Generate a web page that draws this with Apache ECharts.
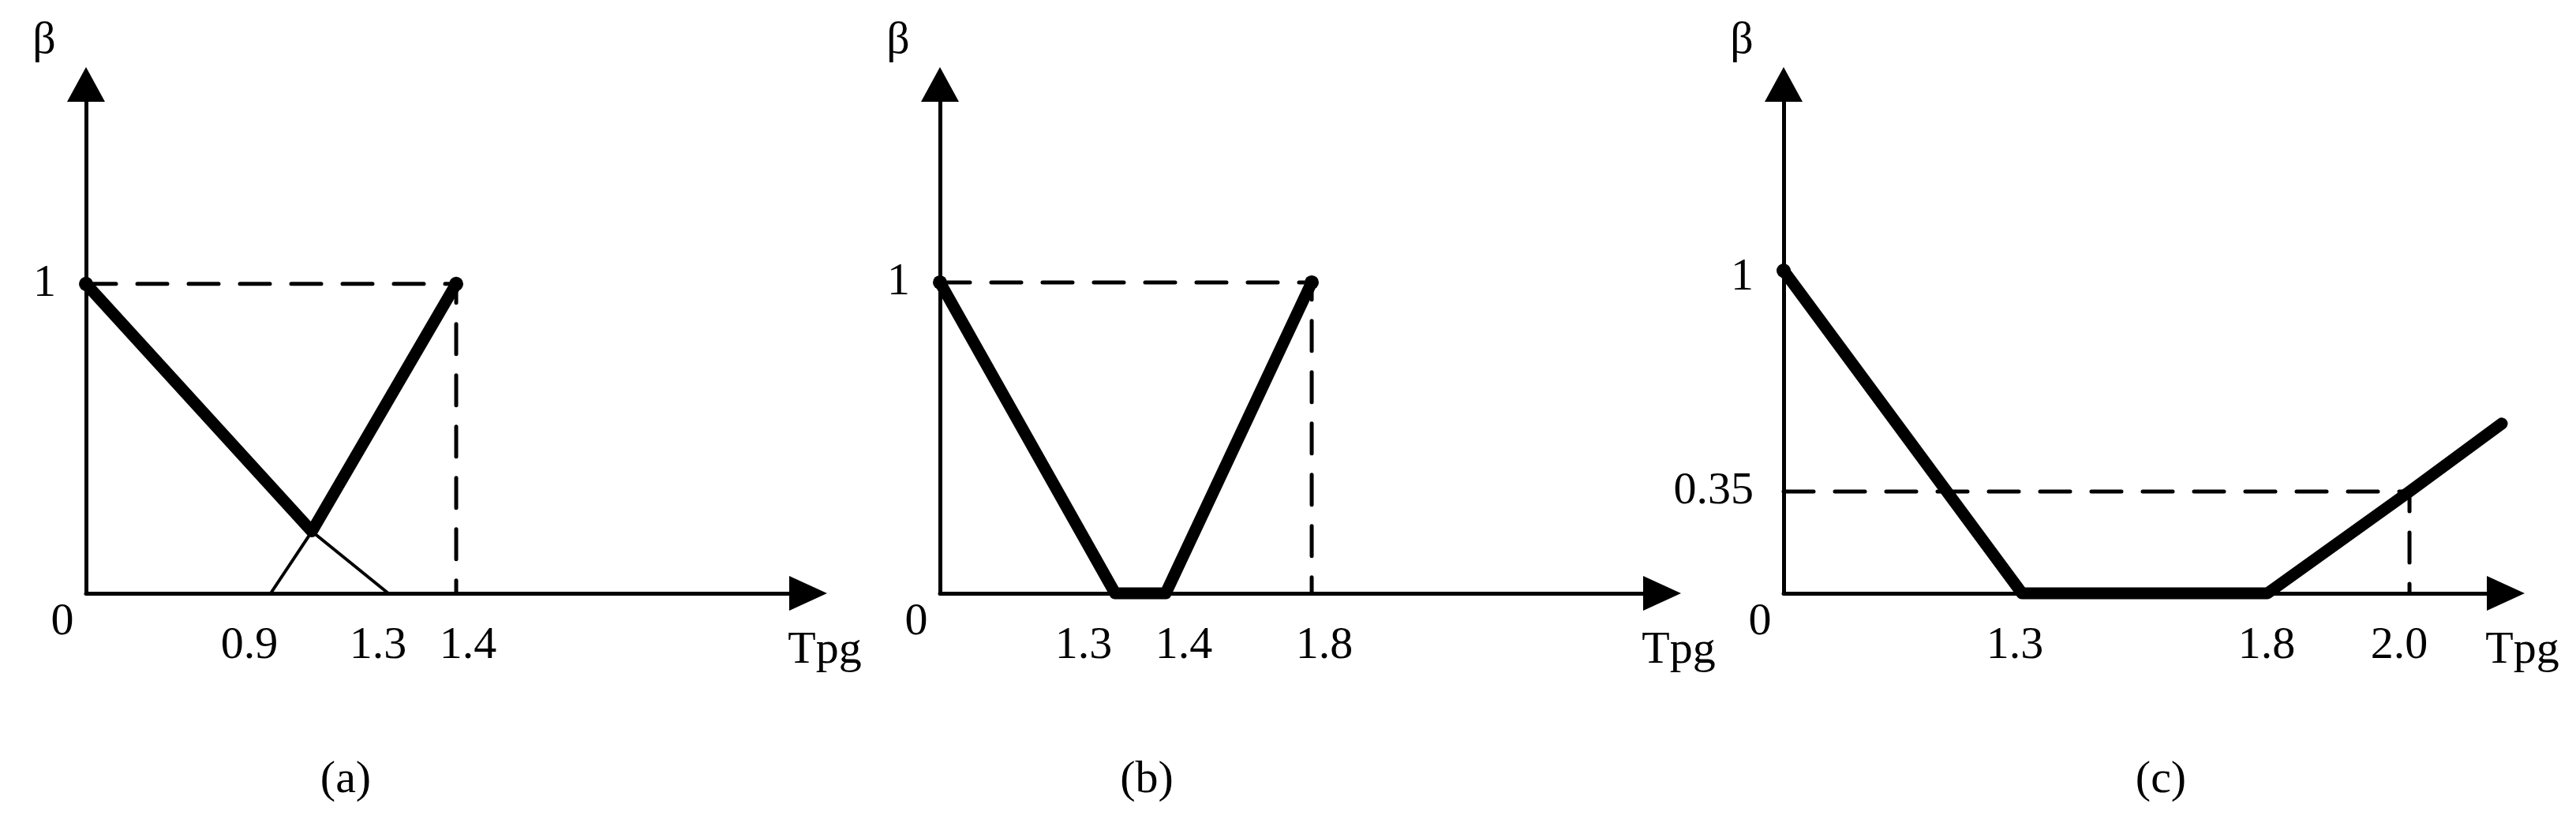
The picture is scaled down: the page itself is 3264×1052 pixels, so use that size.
<!DOCTYPE html>
<html>
<head>
<meta charset="utf-8">
<title>β - Tpg</title>
<script src="https://cdn.jsdelivr.net/npm/echarts@6/dist/echarts.min.js"></script>
<style>
html, body { margin: 0; padding: 0; background: #fff; }
#chart { width: 3264px; height: 1052px; }
</style>
</head>
<body>
<div id="chart"></div>
<script>
// (a)
const aXTicks = ['0.9', '1.3', '1.4'];
const aYTicks = ['1'];
const aBold = [[0, 1], [1.04, 0.2], [1.4, 1]];
const aThinDown = [[1.04, 0.2], [1.3, 0]];
const aThinUp = [[0.9, 0], [1.04, 0.2]];
const aGuide = [[0, 1], [1.4, 1], [1.4, 0]];
// (b)
const bXTicks = ['1.3', '1.4', '1.8'];
const bYTicks = ['1'];
const bBold = [[0, 1], [1.3, 0], [1.4, 0], [1.8, 1]];
const bGuide = [[0, 1], [1.8, 1], [1.8, 0]];
// (c)
const cXTicks = ['1.3', '1.8', '2.0'];
const cYTicks = ['0.35', '1'];
const cBold = [[0, 1], [1.3, 0], [1.8, 0], [2.0, 0.35], [2.13, 0.55]];
const cGuide = [[0, 0.35], [2.0, 0.35], [2.0, 0]];

// 示意图，坐标不按比例：刻度值 -> 轴长比例（分段线性）
const aXScale = [[0, 0], [0.9, 0.2557], [1.3, 0.4186], [1.4, 0.5126]];
const aYScale = [[0, 0], [1, 0.608]];
const bXScale = [[0, 0], [1.3, 0.2426], [1.4, 0.3126], [1.8, 0.5148]];
const bYScale = [[0, 0], [1, 0.611]];
const cXScale = [[0, 0], [1.3, 0.3301], [1.8, 0.67], [2.0, 0.8667]];
const cYScale = [[0, 0], [0.35, 0.2], [1, 0.634]];
// 刻度文字微调(px)
const aXShift = [-27, -13, 15];
const bXShift = [-40, 23, 16];
const cXShift = [-9, -1, -13];
const aYShift = [0];
const bYShift = [0];
const cYShift = [0, 9];

const FONT = "'Liberation Serif', 'Times New Roman', serif";
const SIZE = 58;

function toAxis(scale, v) {
    let i = 1;
    while (i < scale.length - 1 && v > scale[i][0]) i++;
    const [v0, p0] = scale[i - 1];
    const [v1, p1] = scale[i];
    return p0 + (v - v0) * (p1 - p0) / (v1 - v0);
}
function pts(list, sx, sy) {
    return list.map(p => [toAxis(sx, p[0]), toAxis(sy, p[1])]);
}
function nearest(values, v) {
    let k = 0;
    values.forEach((x, i) => { if (Math.abs(x - v) < Math.abs(values[k] - v)) k = i; });
    return k;
}

const panels = [
    {left: 109, capX: 438, cap: '(a)', sx: aXScale, sy: aYScale, xt: aXTicks, yt: aYTicks, shift: aXShift, yShift: aYShift, bold: aBold, thin: [aThinDown, aThinUp], guide: aGuide},
    {left: 1191, capX: 1453, cap: '(b)', sx: bXScale, sy: bYScale, xt: bXTicks, yt: bYTicks, shift: bXShift, yShift: bYShift, bold: bBold, thin: [], guide: bGuide},
    {left: 2260, capX: 2738, cap: '(c)', sx: cXScale, sy: cYScale, xt: cXTicks, yt: cYTicks, shift: cXShift, yShift: cYShift, bold: cBold, thin: [], guide: cGuide}
];

const txt = {fontFamily: FONT, fontSize: SIZE, color: '#000'};
const grid = [], xAxis = [], yAxis = [], series = [], title = [];

panels.forEach((p, i) => {
    grid.push({left: p.left, top: 107, width: 915, height: 645, outerBoundsMode: 'none'});

    const xVals = p.xt.map(t => toAxis(p.sx, parseFloat(t)));
    const rich = {z: Object.assign({padding: [0, 60, 0, 0]}, txt)};
    p.shift.forEach((d, k) => {
        rich['s' + k] = Object.assign({padding: [30, Math.max(0, -2 * d), 0, Math.max(0, 2 * d)]}, txt);
    });
    xAxis.push({
        type: 'value', gridIndex: i, min: 0, max: 1,
        name: 'Tpg', nameLocation: 'end', nameGap: 21,
        nameTextStyle: Object.assign({align: 'center', verticalAlign: 'top', padding: [44, 0, 0, 0]}, txt),
        axisLine: {show: true, onZero: true, symbol: ['none', 'triangle'], symbolSize: [44, 48], lineStyle: {color: '#000', width: 5}},
        axisTick: {show: false},
        splitLine: {show: false},
        axisLabel: Object.assign({
            customValues: [0].concat(xVals),
            showMinLabel: true,
            margin: 8,
            formatter: function (v) {
                if (Math.abs(v) < 1e-6) return '{z|0}';
                const k = nearest(xVals, v);
                return '{s' + k + '|' + p.xt[k] + '}';
            },
            rich: rich
        }, txt)
    });

    const yVals = p.yt.map(t => toAxis(p.sy, parseFloat(t)));
    const yRich = {};
    p.yShift.forEach((d, k) => {
        yRich['y' + k] = Object.assign({padding: [Math.max(0, 2 * d), 0, Math.max(0, -2 * d), 0]}, txt);
    });
    yAxis.push({
        type: 'value', gridIndex: i, min: 0, max: 1,
        name: 'β', nameLocation: 'end', nameGap: 26,
        nameTextStyle: Object.assign({align: 'center', verticalAlign: 'bottom', padding: [0, 106, 0, 0]}, txt),
        axisLine: {show: true, onZero: true, symbol: ['none', 'triangle'], symbolSize: [48, 44], lineStyle: {color: '#000', width: 5}},
        axisTick: {show: false},
        splitLine: {show: false},
        axisLabel: Object.assign({
            customValues: yVals,
            margin: 38,
            formatter: function (v) {
                const k = nearest(yVals, v);
                return '{y' + k + '|' + p.yt[k] + '}';
            },
            rich: yRich
        }, txt)
    });

    // 虚线辅助线
    series.push({
        type: 'line', xAxisIndex: i, yAxisIndex: i, data: pts(p.guide, p.sx, p.sy),
        symbol: 'none', silent: true, clip: false, z: 2,
        lineStyle: {color: '#000', width: 5, type: [38, 27], cap: 'round'}
    });
    p.thin.forEach(t => {
        series.push({
            type: 'line', xAxisIndex: i, yAxisIndex: i, data: pts(t, p.sx, p.sy),
            symbol: 'none', silent: true, clip: false, z: 3,
            lineStyle: {color: '#000', width: 4}
        });
    });
    series.push({
        type: 'line', xAxisIndex: i, yAxisIndex: i, data: pts(p.bold, p.sx, p.sy),
        symbol: 'circle', showSymbol: true, silent: true, clip: false, z: 4,
        symbolSize: (val, params) => p.bold[params.dataIndex][1] === 1 ? 18 : 0,
        itemStyle: {color: '#000'},
        lineStyle: {color: '#000', width: 15, cap: 'round', join: 'round'}
    });

    title.push({
        text: p.cap, left: p.capX, top: 960, padding: 0,
        textAlign: 'center', textVerticalAlign: 'top',
        textStyle: {fontFamily: FONT, fontSize: SIZE, fontWeight: 'normal', color: '#000'}
    });
});

const chart = echarts.init(document.getElementById('chart'));
chart.setOption({
    backgroundColor: '#fff',
    animation: false,
    title: title,
    grid: grid,
    xAxis: xAxis,
    yAxis: yAxis,
    series: series
});
</script>
</body>
</html>
